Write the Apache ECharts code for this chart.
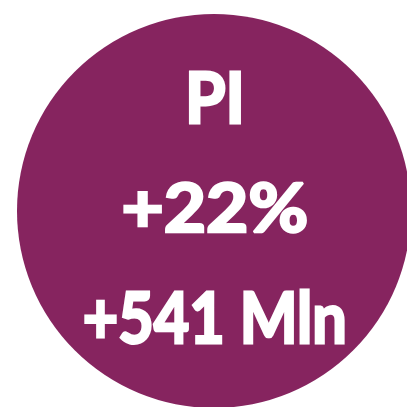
<!DOCTYPE html>
<html>
<head>
<meta charset="utf-8">
<script src="https://cdn.jsdelivr.net/npm/echarts@6/dist/echarts.min.js"></script>
<style>
  html, body { margin: 0; padding: 0; background: #fff; }
  #chart { width: 407px; height: 407px; }
</style>
</head>
<body>
<div id="chart"></div>
<script>
/* 单色圆形指标卡 */

const sliceNames = ['PI'];
const sliceValues = [100];
const lines = ['PI', '+22%', '+541 Mln'];

const PURPLE = '#86245f';
const FONT = 'Lato';
const SIZE = 74;
const STROKE = 3;

// ink box per line: left, right, cap top, baseline
const boxes = [
    [188, 241, 70, 124],
    [123, 307, 182, 233],
    [84, 345, 289, 344]
];

const ctx = document.createElement('canvas').getContext('2d');

function lineGraphic(text, box) {
    const font = `bold ${SIZE}px ${FONT}`;
    ctx.font = font;
    ctx.textBaseline = 'alphabetic';
    const m = ctx.measureText(text);
    const capH = ctx.measureText('H').actualBoundingBoxAscent;
    ctx.textBaseline = 'middle';
    const midAsc = ctx.measureText('H').actualBoundingBoxAscent;
    const half = STROKE / 2;
    const inkW = m.actualBoundingBoxLeft + m.actualBoundingBoxRight + STROKE;
    const sx = (box[1] - box[0]) / inkW;
    const sy = (box[3] - box[2]) / (capH + STROKE);
    const x = box[0] + (m.actualBoundingBoxLeft + half) * sx;
    const y = box[2] + (midAsc + half) * sy;
    return {
        type: 'text',
        x: x, y: y,
        scaleX: sx, scaleY: sy,
        style: {
            text: text,
            fill: '#fff',
            stroke: '#fff',
            lineWidth: STROKE,
            font: font,
            textAlign: 'left',
            textVerticalAlign: 'middle'
        },
        z: 10
    };
}

function render() {
    const chart = echarts.init(document.getElementById('chart'));
    chart.setOption({
        animation: false,
        series: [{
            type: 'pie',
            center: [214, 211],
            radius: [0, 197],
            silent: true,
            label: { show: false },
            labelLine: { show: false },
            itemStyle: { color: PURPLE },
            data: sliceNames.map((n, i) => ({ name: n, value: sliceValues[i] }))
        }],
        graphic: lines.map((t, i) => lineGraphic(t, boxes[i]))
    });
    return chart;
}

if (document.fonts && document.fonts.load) {
    document.fonts.load(`bold ${SIZE}px ${FONT}`).then(render, render);
} else {
    render();
}
</script>
</body>
</html>
